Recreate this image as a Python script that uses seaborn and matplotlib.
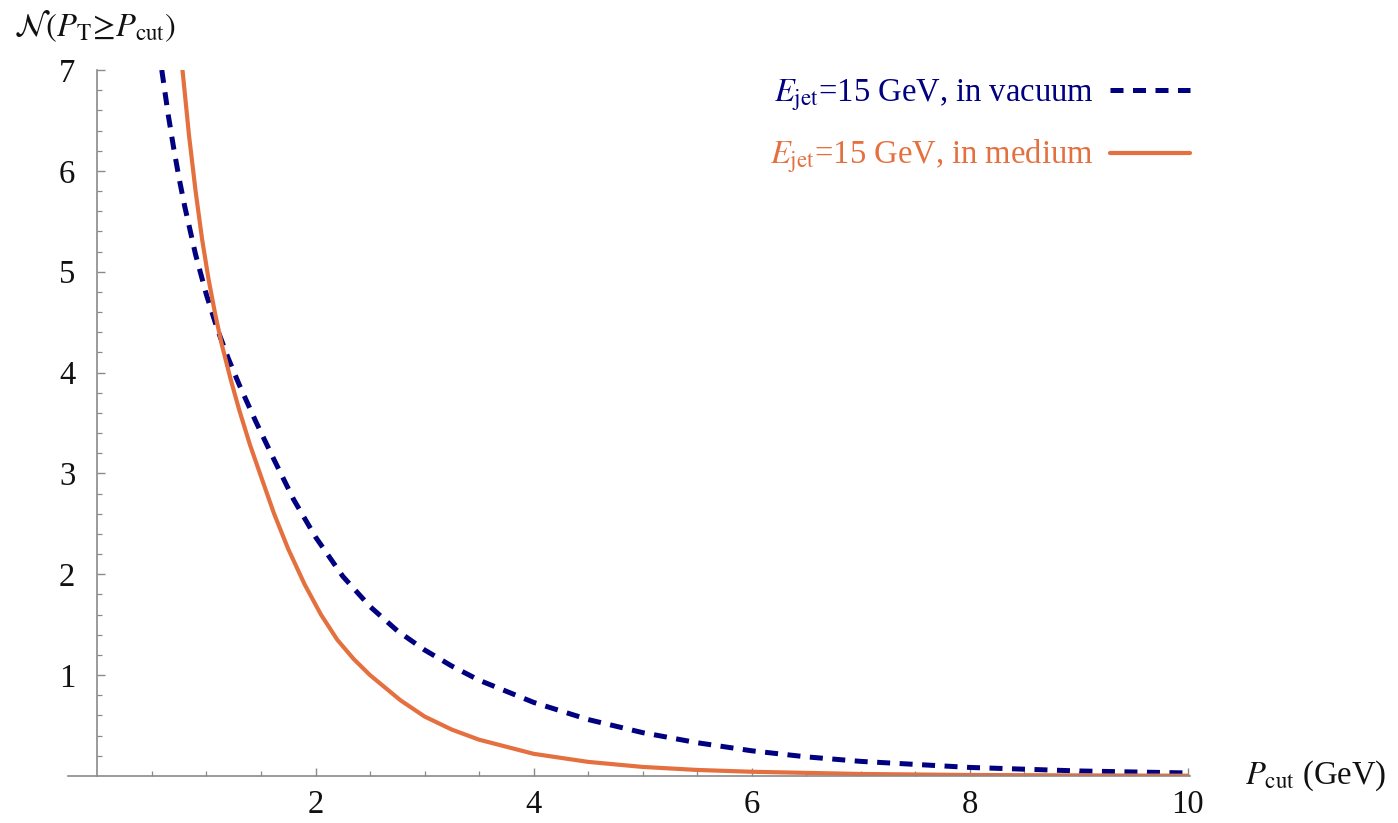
import matplotlib
matplotlib.use("Agg")
import matplotlib.pyplot as plt
import seaborn as sns
import pandas as pd
from matplotlib.ticker import FixedLocator
from matplotlib.lines import Line2D

# ---- data ----
x_vacuum = [0.59, 0.65, 0.70, 0.75, 0.80, 0.90, 1.00, 1.10, 1.20, 1.30, 1.45, 1.60, 1.80,
            2.00, 2.25, 2.50, 2.75, 3.00, 3.25, 3.50, 4.00, 4.50, 5.00, 5.50, 6.00, 6.50,
            7.00, 8.00, 9.00, 10.0]
y_vacuum = [7.00, 6.55, 6.22, 5.92, 5.65, 5.17, 4.77, 4.43, 4.14, 3.88, 3.52, 3.18, 2.74,
            2.37, 1.98, 1.68, 1.44, 1.25, 1.09, 0.95, 0.73, 0.56, 0.43, 0.33, 0.25, 0.19,
            0.145, 0.085, 0.05, 0.03]
x_medium = [0.78, 0.84, 0.90, 0.96, 1.02, 1.08, 1.14, 1.22, 1.30, 1.40, 1.50, 1.62, 1.75,
            1.90, 2.05, 2.20, 2.35, 2.50, 2.78, 3.00, 3.25, 3.50, 4.00, 4.50, 5.00, 5.50,
            6.00, 7.00, 8.00, 9.00, 10.0]
y_medium = [7.00, 6.35, 5.80, 5.32, 4.92, 4.58, 4.28, 3.94, 3.63, 3.28, 2.97, 2.60, 2.25,
            1.90, 1.60, 1.35, 1.16, 1.00, 0.75, 0.59, 0.46, 0.36, 0.22, 0.14, 0.09, 0.06,
            0.042, 0.02, 0.01, 0.006, 0.003]
label_vacuum = r"$E_{\rm jet}$=15 GeV, in vacuum"
label_medium = r"$E_{\rm jet}$=15 GeV, in medium"
x_ticks = [2, 4, 6, 8, 10]
y_ticks = [1, 2, 3, 4, 5, 6, 7]

NAVY = "#000080"
ORANGE = "#E5703F"
AXC = "#8a8a8a"
FS = 23.5

sns.set_style("ticks")
plt.rcParams["font.family"] = ["Liberation Serif", "DejaVu Serif"]
plt.rcParams["mathtext.fontset"] = "stix"

fig = plt.figure(figsize=(13.98, 8.23), dpi=100)
W, H = 1398, 823
x0px, x1px = 68, 1190
ytop, ybot = 70, 776
ax = fig.add_axes([x0px / W, 1 - ybot / H, (x1px - x0px) / W, (ybot - ytop) / H])

df_v = pd.DataFrame({"x": x_vacuum, "y": y_vacuum})
df_m = pd.DataFrame({"x": x_medium, "y": y_medium})
sns.lineplot(data=df_v, x="x", y="y", ax=ax, color=NAVY, lw=3.6, estimator=None)
ax.lines[-1].set_dashes((2.6, 1.9))
ax.lines[-1].set_solid_joinstyle("round")
sns.lineplot(data=df_m, x="x", y="y", ax=ax, color=ORANGE, lw=3.0, estimator=None)
ax.lines[-1].set_solid_joinstyle("round")

ax.set_xlim(-0.27, 10.02)
ax.set_ylim(0, 7)
ax.set_xlabel("")
ax.set_ylabel("")

for s in ["top", "right"]:
    ax.spines[s].set_visible(False)
ax.spines["left"].set_position(("data", 0))
for s in ["left", "bottom"]:
    ax.spines[s].set_color(AXC)
    ax.spines[s].set_linewidth(1.2)

ax.xaxis.set_major_locator(FixedLocator(x_ticks))
ax.xaxis.set_minor_locator(FixedLocator([v * 0.5 for v in range(1, 21) if v % 4 != 0]))
ax.yaxis.set_major_locator(FixedLocator(y_ticks))
ax.yaxis.set_minor_locator(FixedLocator([v * 0.2 for v in range(1, 35) if v % 5 != 0]))
ax.set_xticklabels([str(v) for v in x_ticks])
ax.set_yticklabels([str(v) for v in y_ticks])
ax.tick_params(axis="both", which="both", direction="in", color=AXC, labelsize=FS,
               labelcolor="#111111", bottom=True, left=True, top=False, right=False)
ax.tick_params(axis="both", which="major", length=6, width=1.0)
ax.tick_params(axis="both", which="minor", length=3.5, width=0.9)
ax.tick_params(axis="y", which="major", pad=16)
ax.tick_params(axis="x", which="major", pad=10)

fig.text(14 / W, 1 - 36 / H, r"$\mathcal{N}(P_{\rm T}\!\geq\! P_{\rm cut})$",
         fontsize=FS, va="baseline", ha="left", color="#111111")
fig.text(1245 / W, 1 - 776 / H, r"$P_{\rm cut}$ (GeV)", fontsize=FS,
         va="center", ha="left", color="#111111")

handles = [Line2D([], [], color=NAVY, lw=3.6, dashes=(2.6, 1.9)),
           Line2D([], [], color=ORANGE, lw=3.0)]
leg = ax.legend(handles, [label_vacuum, label_medium], loc="upper right",
                bbox_to_anchor=(1.0, 0.989), frameon=False, fontsize=FS,
                markerfirst=False, handlelength=2.45, handletextpad=0.5,
                labelspacing=0.75, borderaxespad=0.0, borderpad=0.0)
for t, c in zip(leg.get_texts(), [NAVY, ORANGE]):
    t.set_color(c)

fig.savefig("out.png", dpi=100)
